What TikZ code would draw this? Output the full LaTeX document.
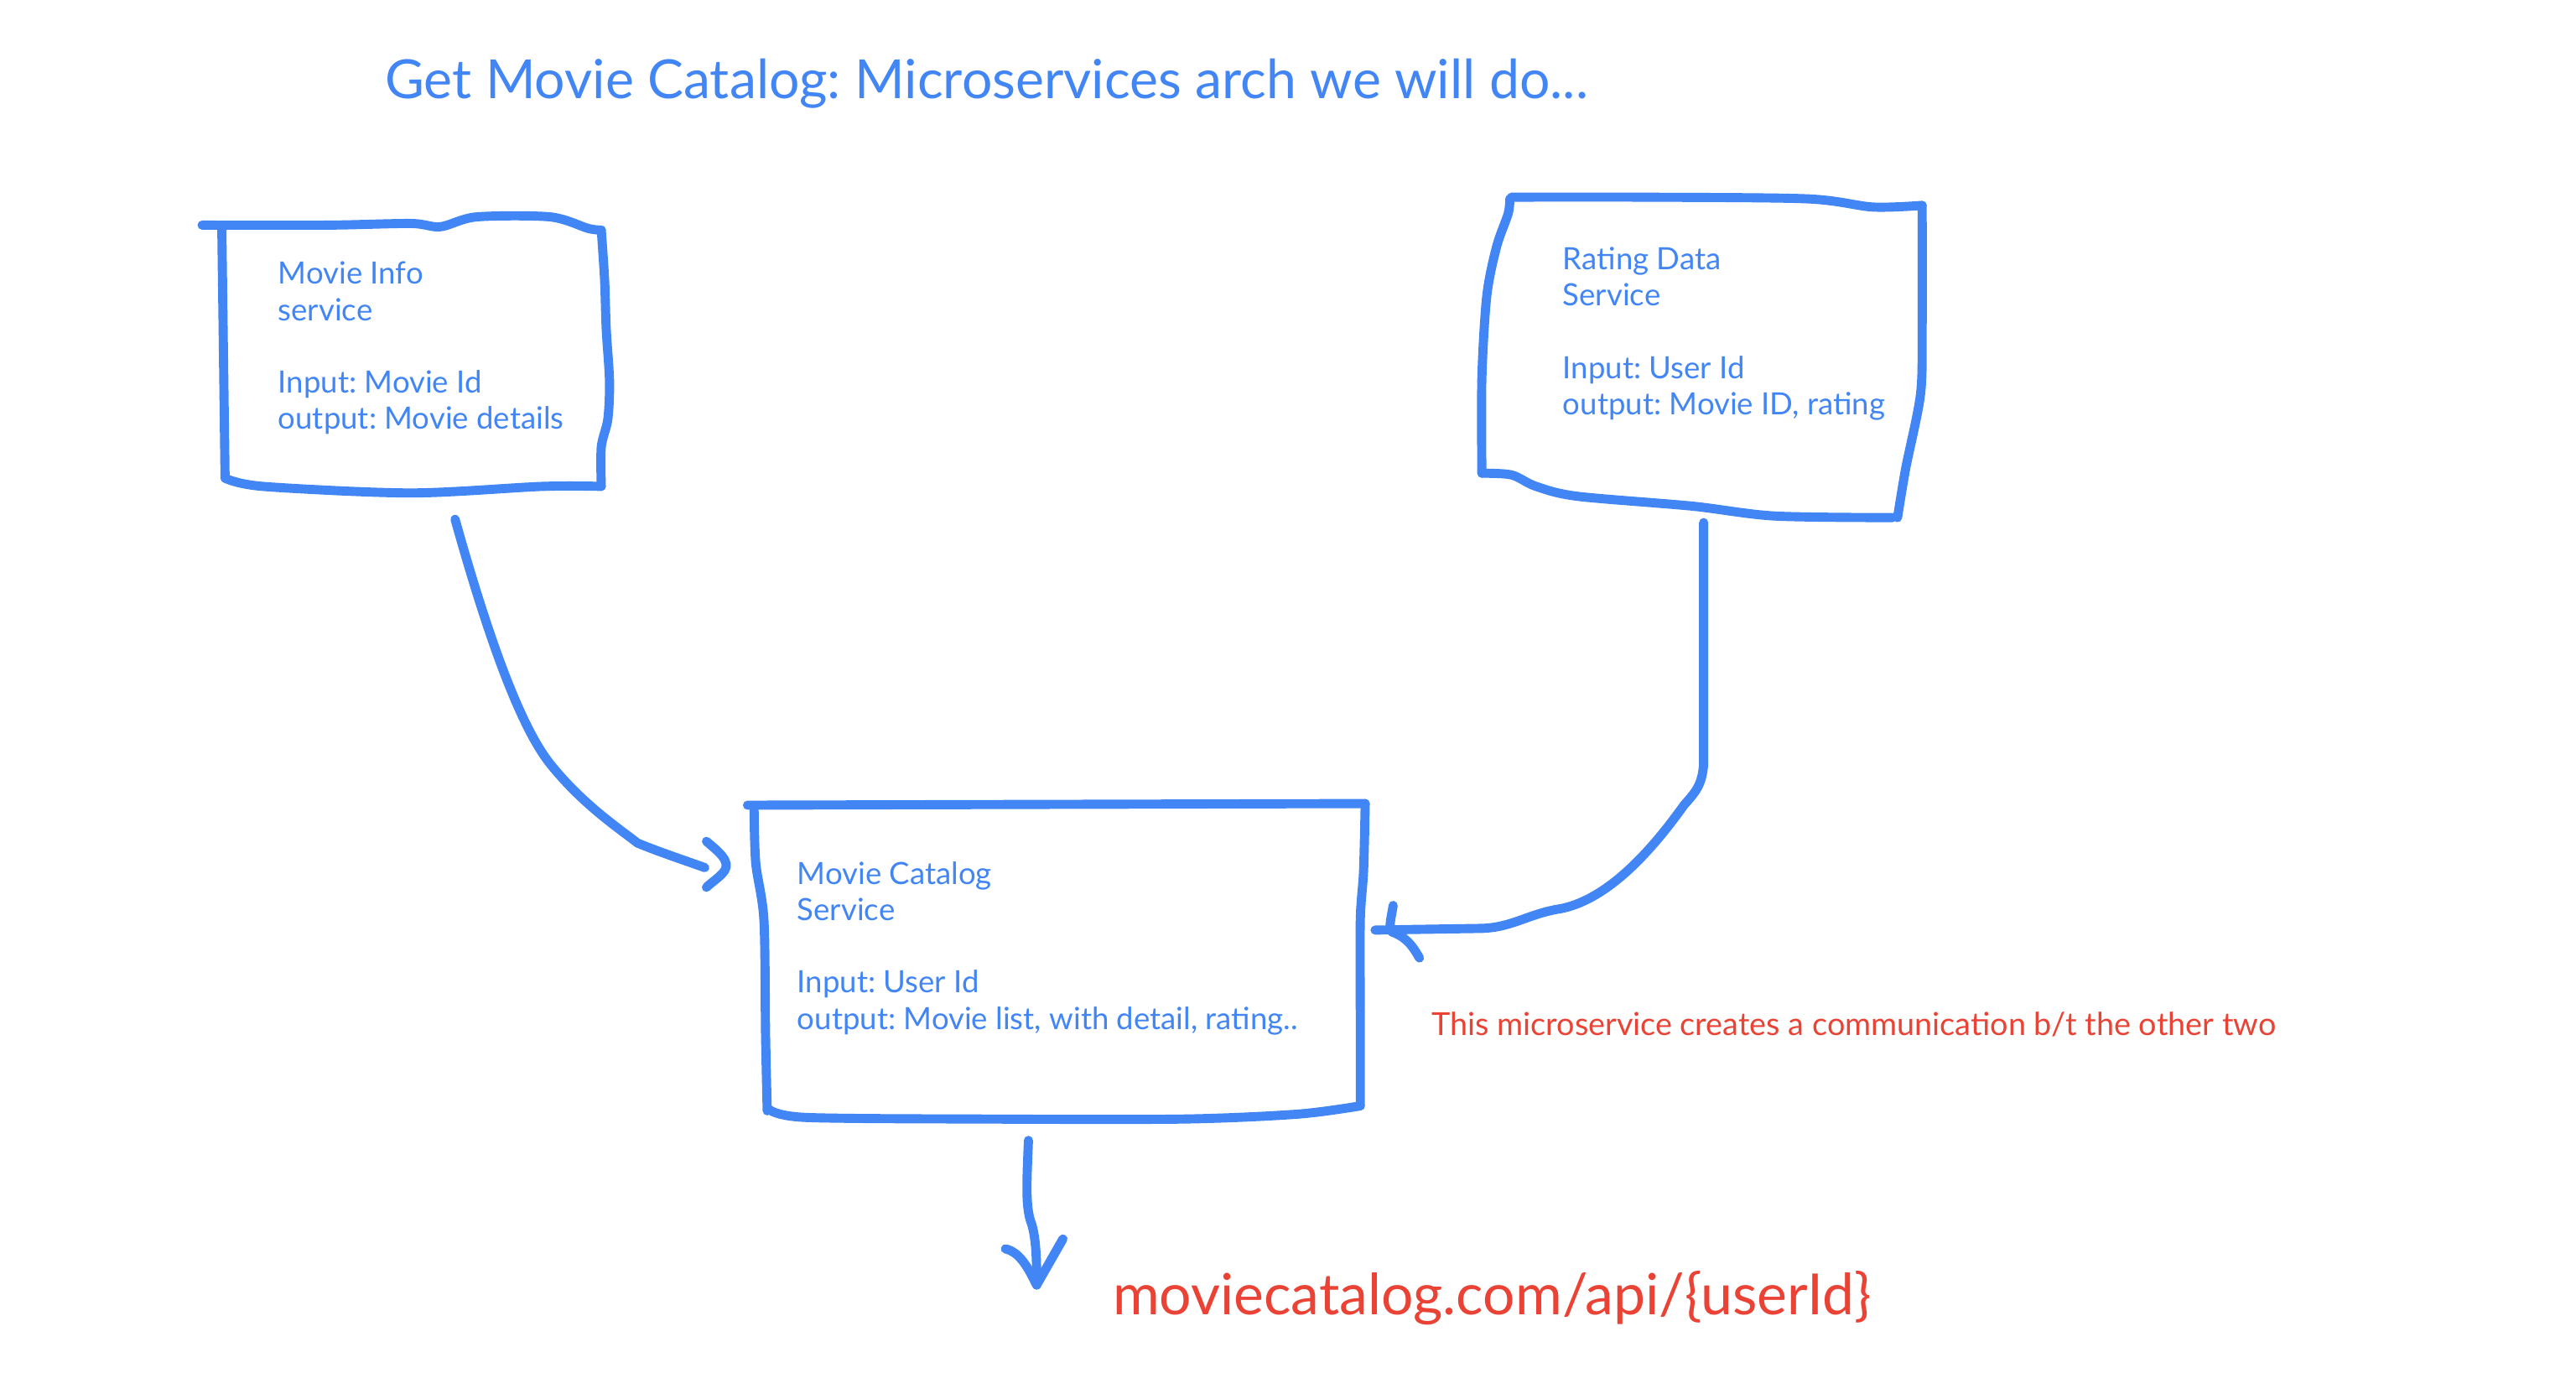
\documentclass[tikz,border=0pt]{standalone}
\usepackage{fontspec}
\setmainfont{Lato}
\usepackage{tikz}
\usetikzlibrary{calc}

\definecolor{inkblue}{HTML}{4285F4}
\definecolor{inkred}{HTML}{EA4335}

\frenchspacing

\begin{document}
\begin{tikzpicture}[x=0.019592cm, y=-0.019592cm,
    sketch/.style={draw=inkblue, line width=3.1pt, line cap=round, line join=round},
    svc/.style={anchor=north west, inner sep=0pt, align=left, text=inkblue,
                font=\fontsize{10.4}{12.3}\selectfont},
    note/.style={anchor=base west, inner sep=0pt, text=inkred}]

            \useasboundingbox (0,0) rectangle (1568,835.5);

            \node[anchor=base west, inner sep=0pt, text=inkblue, font=\fontsize{18.3}{22}\selectfont]
                (title) at (234,60) {Get Movie Catalog: Microservices arch we will do...};

            \node[svc] (info) at (169,159) {Movie Info\\service\\[12.3pt]Input: Movie Id\\output: Movie details};
            \node[svc] (rating) at (951,150) {Rating Data\\Service\\[12.3pt]Input: User Id\\output: Movie ID, rating};
            \node[svc] (catalog) at (485,524) {Movie Catalog\\Service\\[12.3pt]Input: User Id\\output: Movie list, with detail, rating..};

            \node[note, font=\fontsize{10.75}{13}\selectfont] (remark) at (871,630) {This microservice creates a communication b/t the other two};
            \node[note, font=\fontsize{19.3}{23}\selectfont] (url) at (677,800) {moviecatalog.com/api/\{userId\}};

            % hand drawn boxes
            \draw[sketch] plot[smooth] coordinates {(123,137) (200,137) (250,136) (268,138) (290,132) (335,132) (358,139) (366,140)};
            \draw[sketch] plot[smooth] coordinates {(366,140) (368,170) (369,200) (371,232) (370,255) (366,272) (366,296)};
            \draw[sketch] plot[smooth] coordinates {(366,296) (330,296) (250,300) (160,296) (137,291)};
            \draw[sketch] (137,291) -- (135,137);

            \draw[sketch] plot[smooth] coordinates {(920,120) (1000,120) (1100,121) (1140,126) (1170,125)};
            \draw[sketch] plot[smooth] coordinates {(1170,125) (1170,200) (1169,240) (1160,285) (1155,315)};
            \draw[sketch] plot[smooth] coordinates {(1152,315) (1080,314) (1030,308) (960,302) (935,296) (920,289) (902,288)};
            \draw[sketch] plot[smooth] coordinates {(902,288) (902,230) (905,180) (911,150) (918,130) (919,121)};

            \draw[sketch] (455,490) -- (831,489);
            \draw[sketch] plot[smooth] coordinates {(831,489) (830,530) (828,560) (828,620) (828,673)};
            \draw[sketch] plot[smooth] coordinates {(828,673) (790,678) (720,681) (600,681) (490,680) (468,675)};
            \draw[sketch] plot[smooth] coordinates {(467,676) (466,630) (465,560) (460,525) (459,492)};

            % connectors
            \coordinate (info-tail) at (277,316);
            \coordinate (cat-in-l) at (429,528);
            \coordinate (rating-tail) at (1037,318);
            \coordinate (cat-in-r) at (837,566);
            \coordinate (cat-tail) at (626,694);
            \coordinate (url-tip) at (631,782);

            \draw[sketch] (info-tail) .. controls (295,380) and (315,440) .. (335,465)
                .. controls (355,490) and (378,505) .. (388,513)
                .. controls (400,518) and (415,523) .. (cat-in-l);
            \draw[sketch] ($(cat-in-l)+(1,-16)$) .. controls ($(cat-in-l)+(8,-10)$) and ($(cat-in-l)+(16,-4)$) .. ($(cat-in-l)+(12,2)$)
                .. controls ($(cat-in-l)+(9,6)$) and ($(cat-in-l)+(4,9)$) .. ($(cat-in-l)+(1,12)$);

            \draw[sketch] (rating-tail) -- (1037,465) .. controls (1036,478) and (1032,482) .. (1025,490)
                .. controls (1000,525) and (975,548) .. (950,553)
                .. controls (930,556) and (920,565) .. (900,565) -- (cat-in-r);
            \draw[sketch] ($(cat-in-r)+(11,-15)$) .. controls ($(cat-in-r)+(10,-8)$) and ($(cat-in-r)+(8,-2)$) .. ($(cat-in-r)+(10,1)$)
                .. controls ($(cat-in-r)+(18,4)$) and ($(cat-in-r)+(22,8)$) .. ($(cat-in-r)+(27,17)$);

            \draw[sketch] (cat-tail) .. controls (625,720) and (624,735) .. (628,745)
                .. controls (631,755) and (631,770) .. (url-tip);
            \draw[sketch] ($(url-tip)+(-19,-22)$) .. controls ($(url-tip)+(-10,-20)$) and ($(url-tip)+(-5,-10)$) .. (url-tip)
                -- ($(url-tip)+(16,-28)$);

\end{tikzpicture}
\end{document}
